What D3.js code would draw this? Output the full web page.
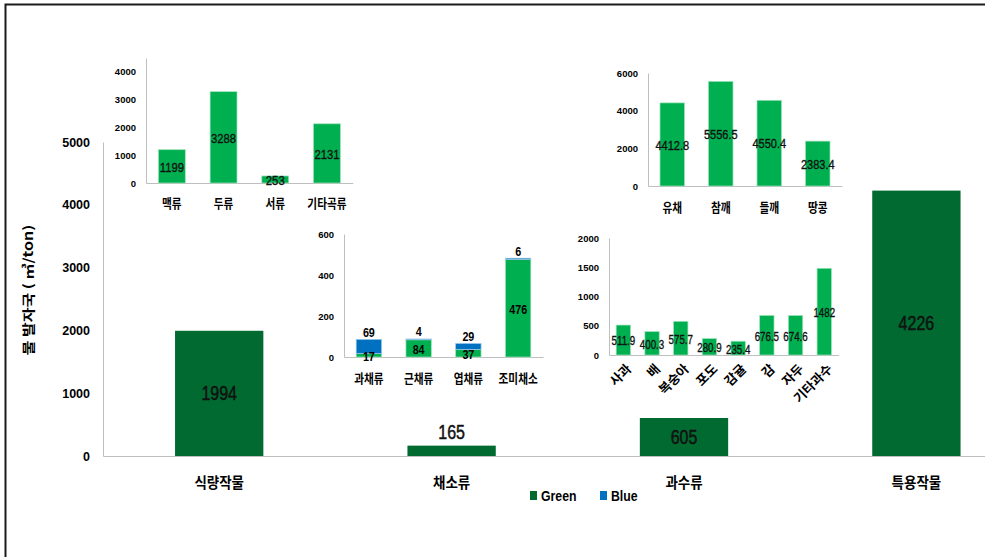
<!DOCTYPE html>
<html><head><meta charset="utf-8">
<script src="https://cdn.jsdelivr.net/npm/d3@7"></script>
<style>body{margin:0;background:#fff}svg{display:block}</style>
</head><body><svg id="c" width="985" height="557"></svg>
<script>
// ---- data ----
const mainCats = ["식량작물", "채소류", "과수류", "특용작물"];
const mainVals = [1994, 165, 605, 4226];
const mainTicks = [0, 1000, 2000, 3000, 4000, 5000];

const grainCats = ["맥류", "두류", "서류", "기타곡류"];
const grainVals = [1199, 3288, 253, 2131];
const grainTicks = [0, 1000, 2000, 3000, 4000];

const oilCats = ["유채", "참깨", "들깨", "땅콩"];
const oilVals = [4412.8, 5556.5, 4550.4, 2383.4];
const oilTicks = [0, 2000, 4000, 6000];

const vegCats = ["과채류", "근채류", "엽채류", "조미채소"];
const vegGreen = [17, 84, 37, 476];
const vegBlue = [69, 4, 29, 6];
const vegTicks = [0, 200, 400, 600];

const fruitCats = ["사과", "배", "복숭아", "포도", "감귤", "감", "자두", "기타과수"];
const fruitVals = [511.9, 400.3, 575.7, 280.9, 235.4, 676.5, 674.6, 1482];
const fruitTicks = [0, 500, 1000, 1500, 2000];

const legendNames = ["Green", "Blue"];

// ---- style ----
const KR = "'Noto Sans CJK KR', sans-serif";
const SANS = "'Liberation Sans', Arial, sans-serif";
const DARK = "#006a30", LIGHT = "#00b050", BLUE = "#0070c0", AXIS = "#bfbfbf";

const svg = d3.select("#c");

function txt(g, x, y, s, o) {
  o = o || {};
  let tf = `translate(${x},${y})`;
  if (o.rot) tf += ` rotate(${o.rot})`;
  if (o.sx && o.sx !== 1) tf += ` scale(${o.sx},1)`;
  const t = g.append("text")
    .attr("transform", tf)
    .attr("text-anchor", o.anchor || "middle")
    .attr("dominant-baseline", "central")
    .attr("font-family", o.font || SANS)
    .attr("font-size", o.size || 12)
    .attr("font-weight", o.weight || "normal")
    .attr("fill", o.fill || "#000")
    .text(s);
  if (o.thick) t.attr("stroke", o.fill || "#000").attr("stroke-width", o.thick);
  return t;
}

// frame
svg.append("rect").attr("x", 5.5).attr("y", 4.5).attr("width", 1000).attr("height", 600)
  .attr("fill", "none").attr("stroke", "#1a1a1a").attr("stroke-width", 2);

// ---- main chart ----
const gm = svg.append("g");
const xm = d3.scaleBand().domain(mainCats).range([103, 1032.6]).paddingInner(0.62).paddingOuter(0.31);
const ym = d3.scaleLinear().domain([0, 5000]).range([456, 142]);

const ay = gm.append("g").attr("transform", "translate(103,0)")
  .call(d3.axisLeft(ym).tickValues(mainTicks).tickSize(0).tickPadding(13).tickFormat(d3.format("d")));
ay.select(".domain").attr("stroke", AXIS);
ay.selectAll("text").attr("font-family", SANS).attr("font-size", 12.5).attr("font-weight", "bold").attr("fill", "#000");

const ax = gm.append("g").attr("transform", "translate(0,456)")
  .call(d3.axisBottom(xm).tickSize(0).tickFormat(""));
ax.select(".domain").attr("stroke", AXIS);

gm.selectAll("rect.mb").data(mainCats).join("rect").attr("class", "mb")
  .attr("x", d => xm(d)).attr("width", xm.bandwidth())
  .attr("y", (d, i) => ym(mainVals[i])).attr("height", (d, i) => ym(0) - ym(mainVals[i]))
  .attr("fill", DARK);

mainCats.forEach((c, i) => {
  const cx = xm(c) + xm.bandwidth() / 2;
  const top = ym(mainVals[i]), h = ym(0) - top;
  const ly = h < 30 ? top - 13 : top + h / 2;
  txt(gm, cx, ly, String(mainVals[i]), { size: 20, sx: 0.8, fill: "#111", thick: 0.5 });
  txt(gm, cx, 481, c, { font: KR, size: 15, weight: "bold", sx: 0.9 });
});

// y title
txt(gm, 27, 290, "물 발자국 ( ㎥/ton)", { font: KR, size: 16, weight: "bold" })
  .attr("transform", "translate(27,290) scale(0.8,1) rotate(-90)");

// legend
const lg = svg.append("g");
[[530, DARK, 541, legendNames[0]], [600, BLUE, 611, legendNames[1]]].forEach(([sx, col, tx, name]) => {
  lg.append("rect").attr("x", sx).attr("y", 491).attr("width", 7).attr("height", 9).attr("fill", col);
  txt(lg, tx, 496, name, { size: 15, weight: "bold", anchor: "start", sx: 0.82 });
});

// ---- inset helper ----
function inset(cfg) {
  const g = svg.append("g");
  const x = d3.scaleBand().domain(cfg.cats).range([cfg.x0, cfg.x1]).paddingInner(cfg.pi).paddingOuter(cfg.pi / 2);
  const y = d3.scaleLinear().domain([0, cfg.max]).range([cfg.y0, cfg.y1]);
  const a = g.append("g").attr("transform", `translate(${cfg.x0},0)`)
    .call(d3.axisLeft(y).tickValues(cfg.ticks).tickSize(0).tickPadding(10).tickFormat(d3.format("d")));
  a.select(".domain").attr("stroke", AXIS);
  a.selectAll("text").attr("font-family", SANS).attr("font-size", 9.5).attr("font-weight", "bold").attr("fill", "#000");
  const b = g.append("g").attr("transform", `translate(0,${cfg.y0})`)
    .call(d3.axisBottom(x).tickSize(0).tickFormat(""));
  b.select(".domain").attr("stroke", AXIS);
  return { g, x, y };
}

function simpleBars(s, vals, fmt, lsize, lsx) {
  s.g.selectAll("rect.b").data(vals).join("rect").attr("class", "b")
    .attr("x", (d, i) => s.x(s.x.domain()[i])).attr("width", s.x.bandwidth())
    .attr("y", d => s.y(d)).attr("height", d => s.y(0) - s.y(d))
    .attr("fill", LIGHT).attr("stroke", "#9ee3bb").attr("stroke-width", 0.7);
  vals.forEach((v, i) => {
    const c = s.x.domain()[i];
    const cx = s.x(c) + s.x.bandwidth() / 2;
    txt(s.g, cx, (s.y(v) + s.y(0)) / 2 + 1, fmt(v), { size: lsize, sx: lsx || 1, fill: "#111", thick: 0.35 });
  });
}

// grains
const s1 = inset({ cats: grainCats, ticks: grainTicks, max: 4500, x0: 146, x1: 352.8, y0: 183, y1: 58, pi: 0.48 });
simpleBars(s1, grainVals, v => String(v), 13, 0.87);
grainCats.forEach(c => txt(s1.g, s1.x(c) + s1.x.bandwidth() / 2, 202, c, { font: KR, size: 13, weight: "bold", sx: 0.82 }));

// oil crops
const s2 = inset({ cats: oilCats, ticks: oilTicks, max: 6000, x0: 648, x1: 842, y0: 186, y1: 73, pi: 0.495 });
simpleBars(s2, oilVals, v => v.toFixed(1), 13, 0.85);
oilCats.forEach(c => txt(s2.g, s2.x(c) + s2.x.bandwidth() / 2, 206, c, { font: KR, size: 13, weight: "bold", sx: 0.82 }));

// vegetables (stacked)
const s3 = inset({ cats: vegCats, ticks: vegTicks, max: 600, x0: 344, x1: 543, y0: 357, y1: 234, pi: 0.49 });
vegCats.forEach((c, i) => {
  const bx = s3.x(c), bw = s3.x.bandwidth(), cx = bx + bw / 2;
  const g0 = vegGreen[i], b0 = vegBlue[i];
  s3.g.append("rect").attr("x", bx).attr("width", bw).attr("y", s3.y(g0)).attr("height", s3.y(0) - s3.y(g0))
    .attr("fill", LIGHT).attr("stroke", "#9ee3bb").attr("stroke-width", 0.7);
  s3.g.append("rect").attr("x", bx).attr("width", bw).attr("y", s3.y(g0 + b0)).attr("height", s3.y(g0) - s3.y(g0 + b0))
    .attr("fill", BLUE).attr("stroke", "#9cc8ea").attr("stroke-width", 0.7);
  txt(s3.g, cx, s3.y(g0 + b0) - 7, String(b0), { size: 13, weight: "bold", sx: 0.83 });
  txt(s3.g, cx, (s3.y(g0) + s3.y(0)) / 2 + 1, String(g0), { size: 13, weight: "bold", sx: 0.83 });
  txt(s3.g, cx, 377, c, { font: KR, size: 13, weight: "bold", sx: 0.82 });
});

// fruits
const s4 = inset({ cats: fruitCats, ticks: fruitTicks, max: 2000, x0: 609, x1: 838.6, y0: 355, y1: 238, pi: 0.5 });
simpleBars(s4, fruitVals, v => (Number.isInteger(v) ? String(v) : v.toFixed(1)), 12.5, 0.78);
fruitCats.forEach(c => {
  const cx = s4.x(c) + s4.x.bandwidth() / 2;
  txt(s4.g, cx + 5, 366, c, { font: KR, size: 13, weight: "bold", anchor: "end", rot: -45 });
});
</script>
</body></html>
